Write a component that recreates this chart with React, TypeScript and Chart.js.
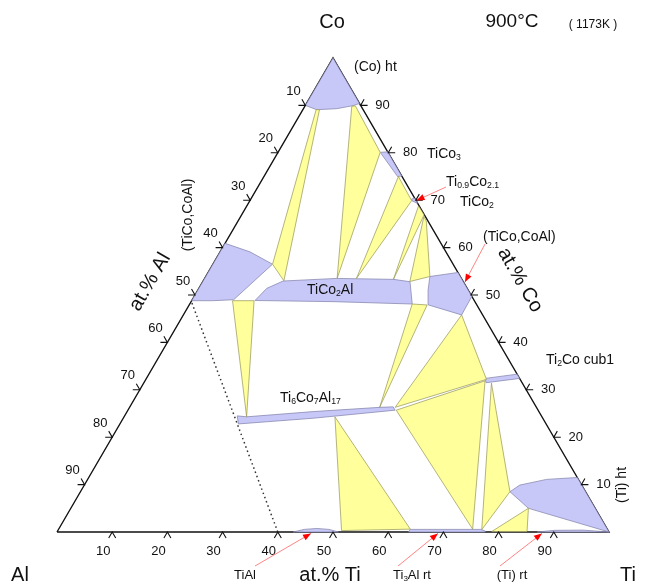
import React, { useEffect, useRef } from "react";
import { Chart, registerables } from "chart.js";

Chart.register(...registerables);

// ---- axis ticks (at.%) ----
const tiTicks = [10, 20, 30, 40, 50, 60, 70, 80, 90];
const alTicks = [10, 20, 30, 40, 50, 60, 70, 80, 90];
const coTicks = [10, 20, 30, 40, 50, 60, 70, 80, 90];

// ---- single-phase regions, vertices as [at.% Ti, at.% Co] ----
const coHt = [[0, 100], [0, 90], [2.5, 89.1], [6, 89.3], [8.5, 89.9], [9.6, 90.4]];
const ticoCoalLeft = [[0, 60.9], [5.4, 59.1], [10.8, 56.5], [7.5, 49.0], [3.8, 48.8], [0, 48.8]];
const tico2al = [[11.45, 48.84], [12.3, 51.4], [14.5, 52.95], [23.9, 53.5], [34.3, 53.3], [37.55, 52.8], [40.3, 48.1], [25.7, 48.6]];
const tico3 = [[18.5, 80.1], [19.8, 80.2], [24.9, 75.1], [24.2, 75.0]];
const ti09co21 = [[29.1, 70.25], [29.6, 70.4], [30.65, 69.35], [29.5, 69.8]];
const ticoCoalRight = [[40.6, 53.9], [45.25, 54.75], [50.3, 49.7], [50.4, 45.8], [43.35, 47.9], [41.7, 51.05]];
const ti6co7al17 = [[20.4, 24.5], [22.2, 24.3], [33.7, 25.4], [45.35, 26.3], [47.7, 26.4], [48.4, 25.7], [34.4, 24.0], [21.45, 22.8]];
const ti2co = [[61.35, 32.4], [66.7, 33.3], [67.6, 32.4], [62.0, 31.5]];
const tiHt = [[77.8, 8.5], [78.9, 9.9], [83.15, 11.1], [88.5, 11.5], [100, 0], [82.9, 5.0]];
const tiAl = [[42.8, 0], [44.5, 0.55], [46.7, 0.75], [49, 0.55], [51, 0]];
const ti3Al = [[63.7, 0], [63.7, 0.55], [76.5, 0.55], [77.5, 0.2], [77.5, 0]];
const tiRt = [[87, 0], [90, 0.35], [95, 0.4], [100, 0]];

// ---- three-phase triangles ----
const tri1 = [[2.4, 89.1], [3.0, 89.1], [14.6, 53.0], [10.8, 56.5]];
const tri2 = [[8.5, 89.8], [9.1, 89.9], [18.5, 80.1], [24.0, 53.5]];
const tri3 = [[24.35, 75.0], [29.3, 69.9], [27.5, 53.5]];
const tri4 = [[31.1, 68.8], [33.05, 66.9], [34.3, 53.3]];
const tri5 = [[33.2, 66.5], [34.1, 65.6], [40.6, 53.9], [37.5, 52.85]];
const tri6 = [[7.4, 48.8], [11.3, 48.8], [22.2, 24.3]];
const tri7 = [[40.3, 48.1], [43.1, 47.9], [45.3, 26.3]];
const tri8 = [[50.4, 45.8], [61.7, 32.2], [48.1, 26.3]];
const tri9 = [[48.6, 25.7], [61.6, 31.9], [75.0, 0.6]];
const tri10 = [[63.0, 31.4], [77.8, 8.5], [76.7, 0.5]];
const tri11 = [[38.2, 24.3], [51.4, 0.3], [63.7, 0.6]];
const tri12 = [[82.9, 5.0], [78.7, 0.1], [85.1, 0.1]];

// ---- other lines ----
const outline = [[0, 0], [100, 0], [0, 100], [0, 0]];
const dottedLine = [[0.3, 48.3], [40, 0]];
const arrowTi09 = [[34.08, 72.78], [30.16, 69.94]];
const arrowTiCoCoAl = [[47.16, 60.76], [47.54, 52.74]];
const arrowTiAl = [[39.46, -7.17], [46.16, -0.3]];
const arrowTi3Al = [[65.37, -7.17], [69.16, -0.3]];
const arrowTiRt = [[83.84, -7.17], [88.0, -0.3]];

const BLUE = "rgb(200,200,248)";
const BLUE_EDGE = "rgba(130,130,170,0.9)";
const YELLOW = "rgb(255,255,155)";
const YELLOW_EDGE = "rgba(150,150,90,0.9)";
const FAM = '"Liberation Sans", Arial, sans-serif';

const toXY = (p: number[]) => ({ x: p[0] + p[1] / 2, y: p[1] });

type Part = [string, boolean];

function drawRich(
  ctx: CanvasRenderingContext2D,
  parts: Part[],
  x: number,
  y: number,
  size: number,
  align: "left" | "center",
  rot = 0
) {
  ctx.save();
  ctx.translate(x, y);
  ctx.rotate(rot);
  ctx.textBaseline = "middle";
  ctx.textAlign = "left";
  ctx.fillStyle = "#111";
  const widths = parts.map(([t, sub]) => {
    ctx.font = `${sub ? size * 0.62 : size}px ${FAM}`;
    return ctx.measureText(t).width;
  });
  const total = widths.reduce((a, b) => a + b, 0);
  let cx = align === "center" ? -total / 2 : 0;
  parts.forEach(([t, sub], i) => {
    ctx.font = `${sub ? size * 0.62 : size}px ${FAM}`;
    ctx.fillText(t, cx, sub ? size * 0.28 : 0);
    cx += widths[i];
  });
  ctx.restore();
}

const decorPlugin = {
  id: "ternaryDecor",
  afterDatasetsDraw(chart: any) {
    const ctx: CanvasRenderingContext2D = chart.ctx;
    const xs = chart.scales.x;
    const ys = chart.scales.y;
    const px = (ti: number, co: number) => ({
      x: xs.getPixelForValue(ti + co / 2),
      y: ys.getPixelForValue(co),
    });
    const L = 7;
    const s3 = Math.sqrt(3) / 2;
    ctx.save();
    ctx.strokeStyle = "#111";
    ctx.lineWidth = 1.1;
    ctx.fillStyle = "#111";
    ctx.font = `13px ${FAM}`;
    ctx.textAlign = "center";
    ctx.textBaseline = "middle";
    // bottom (Ti) ticks
    tiTicks.forEach((v) => {
      const p = px(v, 0);
      ctx.beginPath();
      ctx.moveTo(p.x - 0.5 * L, p.y + s3 * L);
      ctx.lineTo(p.x, p.y);
      ctx.lineTo(p.x + 0.5 * L, p.y + s3 * L);
      ctx.stroke();
      ctx.fillText(String(v), p.x - 9, p.y + 19);
    });
    // left (Al) ticks
    alTicks.forEach((v) => {
      const p = px(0, 100 - v);
      ctx.beginPath();
      ctx.moveTo(p.x - L, p.y);
      ctx.lineTo(p.x, p.y);
      ctx.lineTo(p.x - 0.5 * L, p.y - s3 * L);
      ctx.stroke();
      ctx.fillText(String(v), p.x - 12, p.y - 14);
    });
    // right (Co) ticks
    coTicks.forEach((v) => {
      const p = px(100 - v, v);
      ctx.beginPath();
      ctx.moveTo(p.x + L, p.y);
      ctx.lineTo(p.x, p.y);
      ctx.lineTo(p.x + 0.5 * L, p.y - s3 * L);
      ctx.stroke();
      ctx.fillText(String(v), p.x + 22, p.y);
    });
    ctx.restore();

    // arrow heads
    chart.data.datasets.forEach((ds: any, i: number) => {
      if (!ds.isArrow) return;
      const pts = chart.getDatasetMeta(i).data;
      const a = pts[0];
      const b = pts[1];
      const ang = Math.atan2(b.y - a.y, b.x - a.x);
      const hl = 8;
      const hw = 3.2;
      ctx.save();
      ctx.translate(b.x, b.y);
      ctx.rotate(ang);
      ctx.fillStyle = "#ff0000";
      ctx.beginPath();
      ctx.moveTo(0, 0);
      ctx.lineTo(-hl, -hw);
      ctx.lineTo(-hl, hw);
      ctx.closePath();
      ctx.fill();
      ctx.restore();
    });

    // texts
    drawRich(ctx, [["Co", false]], 332, 22, 20, "center");
    drawRich(ctx, [["Al", false]], 20, 575, 20, "center");
    drawRich(ctx, [["Ti", false]], 628, 575, 20, "center");
    drawRich(ctx, [["900°C", false]], 512, 22, 19, "center");
    drawRich(ctx, [["( 1173K )", false]], 593, 25, 12, "center");
    drawRich(ctx, [["at.% Ti", false]], 330, 575, 20, "center");
    drawRich(ctx, [["at.% Al", false]], 150, 282, 20, "center", -Math.PI / 3);
    drawRich(ctx, [["at.% Co", false]], 520, 280, 20, "center", Math.PI / 3);

    drawRich(ctx, [["(Co) ht", false]], 354, 67, 14, "left");
    drawRich(ctx, [["TiCo", false], ["3", true]], 427, 154, 14, "left");
    drawRich(ctx, [["Ti", false], ["0.9", true], ["Co", false], ["2.1", true]], 446, 182, 14, "left");
    drawRich(ctx, [["TiCo", false], ["2", true]], 460, 202, 14, "left");
    drawRich(ctx, [["(TiCo,CoAl)", false]], 483, 237, 14, "left");
    drawRich(ctx, [["TiCo", false], ["2", true], ["Al", false]], 307, 290, 14, "left");
    drawRich(ctx, [["Ti", false], ["2", true], ["Co cub1", false]], 546, 360, 14, "left");
    drawRich(ctx, [["Ti", false], ["6", true], ["Co", false], ["7", true], ["Al", false], ["17", true]], 280, 398, 14, "left");
    drawRich(ctx, [["(Ti) ht", false]], 622, 485, 14, "center", -Math.PI / 2);
    drawRich(ctx, [["(TiCo,CoAl)", false]], 188, 215, 14, "center", -Math.PI / 2);
    drawRich(ctx, [["TiAl", false]], 245, 575, 13, "center");
    drawRich(ctx, [["Ti", false], ["3", true], ["Al rt", false]], 412, 575, 13, "center");
    drawRich(ctx, [["(Ti) rt", false]], 512, 575, 13, "center");
  },
};

function region(pts: number[][], fill: string, edge: string) {
  return {
    data: [...pts, pts[0]].map(toXY),
    showLine: true,
    fill: "shape",
    backgroundColor: fill,
    borderColor: edge,
    borderWidth: 0.8,
    pointRadius: 0,
    tension: 0,
    clip: false,
  };
}

function line(pts: number[][], color: string, width: number, dash: number[] = []) {
  return {
    data: pts.map(toXY),
    showLine: true,
    fill: false,
    borderColor: color,
    borderWidth: width,
    borderDash: dash,
    pointRadius: 0,
    tension: 0,
    clip: false,
  };
}

export default function App() {
  const ref = useRef<HTMLCanvasElement>(null);
  useEffect(() => {
    if (!ref.current) return;
    const yellowTris = [tri1, tri2, tri3, tri4, tri5, tri6, tri7, tri8, tri9, tri10, tri11, tri12];
    const bluePhases = [coHt, ticoCoalLeft, tico2al, tico3, ti09co21, ticoCoalRight, ti6co7al17, ti2co, tiHt, tiAl, ti3Al, tiRt];
    const arrows = [arrowTi09, arrowTiCoCoAl, arrowTiAl, arrowTi3Al, arrowTiRt];
    const datasets: any[] = [
      ...yellowTris.map((p) => region(p, YELLOW, YELLOW_EDGE)),
      ...bluePhases.map((p) => region(p, BLUE, BLUE_EDGE)),
      line(dottedLine, "#333", 1.5, [1.5, 3]),
      line(outline, "#111", 1.4),
      ...arrows.map((p) => ({ ...line(p, "rgba(255,110,110,0.85)", 1), isArrow: true })),
    ];
    const chart = new Chart(ref.current, {
      type: "scatter",
      data: { datasets },
      options: {
        animation: false,
        responsive: false,
        devicePixelRatio: 1,
        layout: { padding: { left: 57, right: 37, top: 58, bottom: 52 } },
        scales: {
          x: { type: "linear", min: 0, max: 100, display: false },
          y: { type: "linear", min: 0, max: 100, display: false },
        },
        plugins: { legend: { display: false }, tooltip: { enabled: false } },
      } as any,
      plugins: [decorPlugin],
    });
    return () => chart.destroy();
  }, []);
  return (
    <div style={{ position: "fixed", left: 0, top: 0, width: 646, height: 584, background: "#fff" }}>
      <canvas ref={ref} width={646} height={584} />
    </div>
  );
}
